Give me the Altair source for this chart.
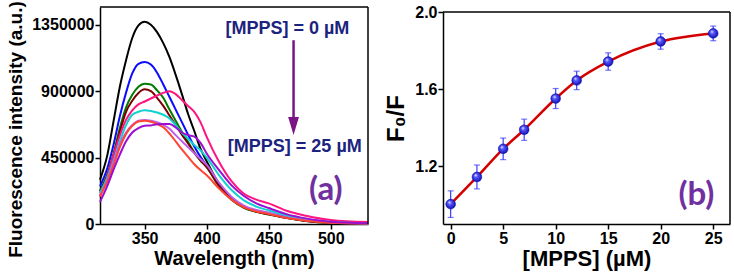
import altair as alt
import pandas as pd

# ---------------- panel (a): emission spectra ----------------
wavelength = [314, 320, 325, 330, 335, 340, 345, 350, 355, 360, 365, 370, 375, 380,
              385, 390, 395, 400, 410, 420, 430, 440, 450, 465, 480, 500, 530]
# intensities in thousands (a.u.)
s_black = [300, 470, 700, 930, 1110, 1260, 1345, 1370, 1350, 1300, 1225, 1130, 1010, 880,
           745, 630, 510, 425, 270, 170, 115, 90, 72, 45, 25, 10, 3]
s_blue = [255, 380, 540, 730, 890, 1020, 1085, 1097, 1080, 1025, 945, 860, 775, 690,
          605, 525, 455, 395, 260, 170, 115, 88, 70, 42, 22, 9, 3]
s_green = [225, 340, 480, 650, 790, 875, 930, 950, 945, 905, 855, 775, 700, 625,
           555, 485, 430, 385, 255, 165, 110, 82, 65, 40, 21, 8, 3]
s_brown = [220, 330, 465, 625, 760, 835, 888, 912, 900, 855, 800, 735, 670, 605,
           545, 482, 432, 385, 258, 167, 112, 83, 66, 40, 21, 8, 3]
s_pink = [185, 325, 470, 600, 705, 770, 810, 830, 850, 870, 888, 900, 880, 840,
          800, 760, 690, 590, 420, 290, 205, 165, 140, 88, 56, 27, 13]
s_cyan = [210, 315, 430, 560, 670, 740, 760, 770, 765, 755, 740, 715, 670, 620,
          578, 535, 500, 450, 330, 230, 160, 118, 92, 56, 32, 13, 4]
s_orchid = [195, 300, 420, 540, 620, 670, 700, 705, 700, 690, 672, 645, 602, 560,
            520, 480, 440, 400, 280, 185, 125, 95, 76, 45, 25, 10, 3]
s_red = [188, 290, 400, 520, 610, 665, 695, 700, 693, 678, 655, 612, 560, 505,
         455, 405, 365, 330, 240, 165, 112, 85, 68, 40, 22, 8, 3]
s_purple = [150, 260, 370, 470, 560, 620, 650, 665, 668, 675, 678, 677, 655, 620,
            602, 592, 550, 478, 365, 262, 190, 140, 108, 65, 38, 15, 5]

series_names = ["0 µM", "2.5 µM", "5 µM", "7 µM", "10 µM", "12 µM", "15 µM", "20 µM", "25 µM"]
series_vals = [s_black, s_blue, s_green, s_brown, s_pink, s_cyan, s_orchid, s_red, s_purple]
series_colors = ["#000000", "#0a0aff", "#007a00", "#7a0000", "#ff1480",
                 "#10d0d0", "#c060e8", "#ff4433", "#9a10d0"]

rows = []
for i, (name, vals) in enumerate(zip(series_names, series_vals)):
    for w, v in zip(wavelength, vals):
        rows.append({"series": name, "order": i, "wl": w, "I": v * 1000})
spec = pd.DataFrame(rows)

XA = [314, 530]
YA = [0, 1470000]
FONT = "Liberation Sans"

xa = alt.X("wl:Q", scale=alt.Scale(domain=XA, nice=False, zero=False),
           axis=alt.Axis(values=[350, 400, 450, 500], title="Wavelength (nm)",
                         titleFontSize=20, titlePadding=2))
ya = alt.Y("I:Q", scale=alt.Scale(domain=YA, nice=False),
           axis=alt.Axis(values=[0, 450000, 900000, 1350000], format="d",
                         title="Fluorescence intensity (a.u.)", titleFontSize=19,
                         titlePadding=6, titleY=122))

lines = alt.Chart(spec).mark_line(strokeWidth=2, interpolate="monotone").encode(
    x=xa, y=ya,
    color=alt.Color("series:N", scale=alt.Scale(domain=series_names, range=series_colors),
                    legend=None),
    order="order:Q",
)

frame_a = alt.Chart(pd.DataFrame({"k": [0]})).mark_rule(color="black", strokeWidth=1.5)
top_a = frame_a.encode(x=alt.datum(XA[0]), x2=alt.datum(XA[1]), y=alt.datum(YA[1]))
right_a = frame_a.encode(x=alt.datum(XA[1]), y=alt.datum(YA[0]), y2=alt.datum(YA[1]))

ann_text = ["[MPPS] = 0 µM", "[MPPS] = 25 µM"]
ann_x = [465, 471]
ann_y = [1322000, 522000]
ann = alt.Chart(pd.DataFrame({"t": ann_text, "x": ann_x, "y": ann_y})).mark_text(
    font=FONT, fontWeight="bold", fontSize=18, color="#1b237e", baseline="middle"
).encode(x="x:Q", y="y:Q", text="t:N")

arrow_x = [470]
arrow_y = [1245000]
arrow_y2 = [700000]
arrow_head_y = [664000]
arr_df = pd.DataFrame({"x": arrow_x, "y": arrow_y, "y2": arrow_y2, "h": arrow_head_y})
shaft = alt.Chart(arr_df).mark_rule(color="#7b1585", strokeWidth=2.5).encode(
    x="x:Q", y="y:Q", y2="y2:Q")
head = alt.Chart(arr_df).mark_point(
    shape="M-0.6,-1L0.6,-1L0,1Z", size=324, filled=True, color="#7b1585", opacity=1
).encode(x="x:Q", y="h:Q")

lab_a = alt.Chart(pd.DataFrame({"t": ["(a)"], "x": [496], "y": [230000]})).mark_text(
    font="Lato", fontWeight="bold", fontSize=33, color="#7030a0", baseline="middle"
).encode(x="x:Q", y="y:Q", text="t:N")

panel_a = alt.layer(lines, top_a, right_a, ann, shaft, head, lab_a).properties(
    width=268, height=217)

# ---------------- panel (b): Stern-Volmer type plot ----------------
conc = [0, 2.5, 5, 7, 10, 12, 15, 20, 25]
f0f = [1.003, 1.144, 1.29, 1.389, 1.551, 1.645, 1.743, 1.847, 1.889]
err = [0.069, 0.062, 0.056, 0.055, 0.052, 0.048, 0.045, 0.040, 0.038]

sv = pd.DataFrame({"c": conc, "r": f0f, "e": err})
sv["lo"] = sv["r"] - sv["e"]
sv["hi"] = sv["r"] + sv["e"]

XB = [-0.73, 26.6]
YB = [0.9, 2.0]
xb = alt.X("c:Q", scale=alt.Scale(domain=XB, nice=False, zero=False),
           axis=alt.Axis(values=[0, 5, 10, 15, 20, 25], title="[MPPS] (µM)",
                         titleFontSize=22, titlePadding=2))
yb_scale = alt.Scale(domain=YB, range=[217, 5], nice=False, zero=False)
yb = alt.Y("r:Q", scale=yb_scale,
           axis=alt.Axis(values=[1.2, 1.6, 2.0], format=".1f", title="F₀/F",
                         titleFontSize=24, titlePadding=6))

base_b = alt.Chart(sv)
fit = base_b.mark_line(color="#d40000", strokeWidth=2.5, interpolate="monotone").encode(
    x=xb, y=yb)
ebar = base_b.mark_rule(color="#3b3bff", strokeWidth=1.2).encode(
    x="c:Q", y=alt.Y("lo:Q", scale=yb_scale), y2="hi:Q")
cap_lo = base_b.mark_tick(color="#3b3bff", thickness=1.2, size=6, orient="horizontal").encode(
    x="c:Q", y=alt.Y("lo:Q", scale=yb_scale))
cap_hi = base_b.mark_tick(color="#3b3bff", thickness=1.2, size=6, orient="horizontal").encode(
    x="c:Q", y=alt.Y("hi:Q", scale=yb_scale))
sphere = alt.RadialGradient(
    gradient="radial", x1=0.35, y1=0.3, r1=0.0, x2=0.5, y2=0.5, r2=0.6,
    stops=[alt.GradientStop(offset=0, color="#ffffff"),
           alt.GradientStop(offset=0.3, color="#5a5aff"),
           alt.GradientStop(offset=1, color="#0000a0")])
pts = base_b.mark_circle(size=95, opacity=1, fill=sphere, stroke="#0000aa",
                         strokeWidth=0.5).encode(x="c:Q", y="r:Q")

frame_b = alt.Chart(pd.DataFrame({"k": [0]})).mark_rule(color="black", strokeWidth=1.5)
top_b = frame_b.encode(x=alt.datum(XB[0]), x2=alt.datum(XB[1]), y=alt.datum(YB[1]))
right_b = frame_b.encode(x=alt.datum(XB[1]), y=alt.datum(YB[0]), y2=alt.datum(YB[1]))

lab_b = alt.Chart(pd.DataFrame({"t": ["(b)"], "x": [23.4], "y": [1.05]})).mark_text(
    font="Lato", fontWeight="bold", fontSize=33, color="#7030a0", baseline="middle"
).encode(x="x:Q", y="y:Q", text="t:N")

panel_b = alt.layer(fit, ebar, cap_lo, cap_hi, pts, top_b, right_b, lab_b).properties(
    width=287, height=217)

chart = alt.hconcat(panel_a, panel_b, spacing=12).properties(
    padding={"left": 6, "top": 0, "right": 0, "bottom": 3}
).configure_view(stroke=None).configure_axis(
    grid=False, labelFont=FONT, titleFont=FONT, labelFontWeight="bold",
    titleFontWeight="bold", labelFontSize=16, labelColor="black", titleColor="black",
    domainColor="black", domainWidth=1.5, tickColor="black", tickWidth=1.5, tickSize=5,
    labelPadding=1,
)

chart.save("out.html", embed_options={"renderer": "svg", "actions": False})
